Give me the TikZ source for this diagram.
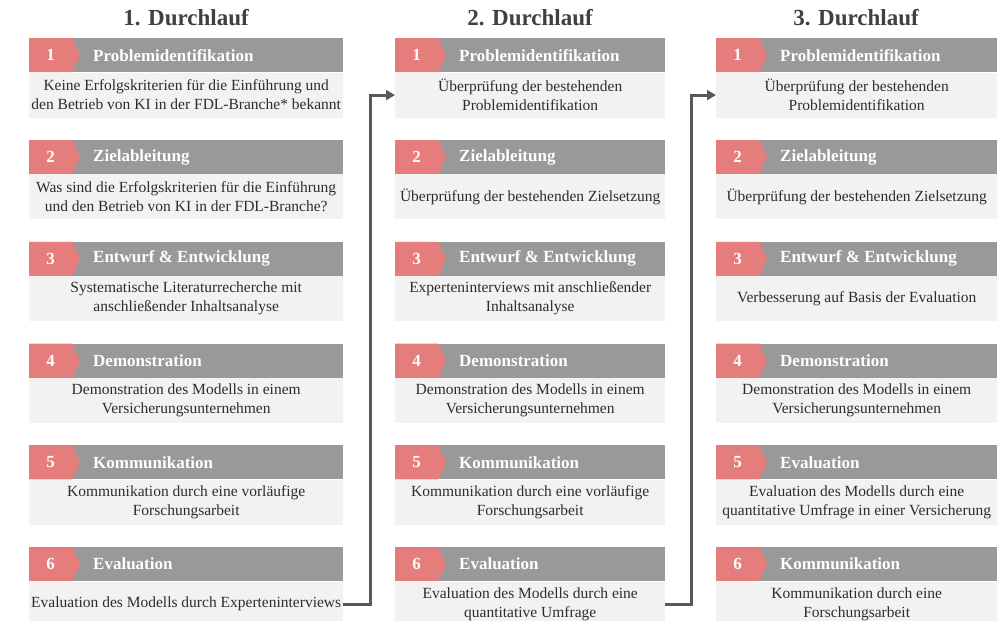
\documentclass[tikz,border=0pt]{standalone}
\usepackage{fontspec}
\setmainfont{Liberation Serif}
\usetikzlibrary{shapes.symbols,arrows.meta}
\definecolor{stepRed}{RGB}{229,125,125}
\definecolor{barGrey}{RGB}{153,153,153}
\definecolor{boxGrey}{RGB}{242,242,242}
\definecolor{lineGrey}{RGB}{89,89,89}
\definecolor{titleGrey}{RGB}{64,64,64}
\definecolor{textGrey}{RGB}{45,45,45}
\def\rowsep{101.8}

\begin{document}
\begin{tikzpicture}[x=1pt,y=-1pt]
    \tikzstyle{title}=[font=\fontsize{23}{28}\selectfont\bfseries, text=titleGrey]
    \tikzstyle{bar}=[rectangle, fill=barGrey, minimum height=34pt, inner sep=0pt, anchor=north west]
    \tikzstyle{num}=[signal, signal to=east, signal pointer angle=130, fill=stepRed,
        minimum width=51pt, minimum height=34pt, inner sep=0pt, anchor=west,
        text=white, font=\fontsize{17}{20}\selectfont\bfseries]
    \tikzstyle{head}=[anchor=west, inner sep=0pt, text=white, font=\fontsize{17}{20}\selectfont\bfseries]
    \tikzstyle{box}=[rectangle, fill=boxGrey, minimum height=45pt, inner sep=0pt, anchor=north west,
        align=center, text=textGrey, font=\fontsize{15.5}{19}\selectfont]
    \tikzstyle{flow}=[draw=lineGrey, line width=3pt, -{Triangle[length=9pt,width=10pt]}]

    \useasboundingbox (0,0) rectangle (1005,621);
    \clip (0,0) rectangle (1005,621);

    % Column titles
    \node[title] (title-1) at (186,18) {1. Durchlauf};
    \node[title] (title-2) at (530,18) {2. Durchlauf};
    \node[title] (title-3) at (856,18) {3. Durchlauf};

    % First run
    \foreach \r/\head/\txt in {
        1/Problemidentifikation/{Keine Erfolgskriterien für die Einführung und\\den Betrieb von KI in der FDL-Branche* bekannt},
        2/Zielableitung/{Was sind die Erfolgskriterien für die Einführung\\und den Betrieb von KI in der FDL-Branche?},
        3/Entwurf \& Entwicklung/{Systematische Literaturrecherche mit\\anschließender Inhaltsanalyse},
        4/Demonstration/{Demonstration des Modells in einem\\Versicherungsunternehmen},
        5/Kommunikation/{Kommunikation durch eine vorläufige\\Forschungsarbeit},
        6/Evaluation/{Evaluation des Modells durch Experteninterviews}}
    {
        \pgfmathsetmacro\y{38+\rowsep*(\r-1)}
        \node[bar, minimum width=314pt] (bar-1-\r) at (29,\y) {};
        \node[num] (num-1-\r) at (bar-1-\r.west) {\r};
        \node[head] (head-1-\r) at ([xshift=64pt]bar-1-\r.west) {\head};
        \node[box, minimum width=314pt] (box-1-\r) at (bar-1-\r.south west) {\txt};
    }

    % Second run
    \foreach \r/\head/\txt in {
        1/Problemidentifikation/{Überprüfung der bestehenden\\Problemidentifikation},
        2/Zielableitung/{Überprüfung der bestehenden Zielsetzung},
        3/Entwurf \& Entwicklung/{Experteninterviews mit anschließender\\Inhaltsanalyse},
        4/Demonstration/{Demonstration des Modells in einem\\Versicherungsunternehmen},
        5/Kommunikation/{Kommunikation durch eine vorläufige\\Forschungsarbeit},
        6/Evaluation/{Evaluation des Modells durch eine\\quantitative Umfrage}}
    {
        \pgfmathsetmacro\y{38+\rowsep*(\r-1)}
        \node[bar, minimum width=270pt] (bar-2-\r) at (395,\y) {};
        \node[num] (num-2-\r) at (bar-2-\r.west) {\r};
        \node[head] (head-2-\r) at ([xshift=64pt]bar-2-\r.west) {\head};
        \node[box, minimum width=270pt] (box-2-\r) at (bar-2-\r.south west) {\txt};
    }

    % Third run
    \foreach \r/\head/\txt in {
        1/Problemidentifikation/{Überprüfung der bestehenden\\Problemidentifikation},
        2/Zielableitung/{Überprüfung der bestehenden Zielsetzung},
        3/Entwurf \& Entwicklung/{Verbesserung auf Basis der Evaluation},
        4/Demonstration/{Demonstration des Modells in einem\\Versicherungsunternehmen},
        5/Evaluation/{Evaluation des Modells durch eine\\quantitative Umfrage in einer Versicherung},
        6/Kommunikation/{Kommunikation durch eine\\Forschungsarbeit}}
    {
        \pgfmathsetmacro\y{38+\rowsep*(\r-1)}
        \node[bar, minimum width=281pt] (bar-3-\r) at (716,\y) {};
        \node[num] (num-3-\r) at (bar-3-\r.west) {\r};
        \node[head] (head-3-\r) at ([xshift=64pt]bar-3-\r.west) {\head};
        \node[box, minimum width=281pt] (box-3-\r) at (bar-3-\r.south west) {\txt};
    }

    % Connect the runs
    \draw[flow] (box-1-6.east) -- ++(27,0) |- (box-2-1.west);
    \draw[flow] (box-2-6.east) -- ++(26,0) |- (box-3-1.west);
\end{tikzpicture}
\end{document}
